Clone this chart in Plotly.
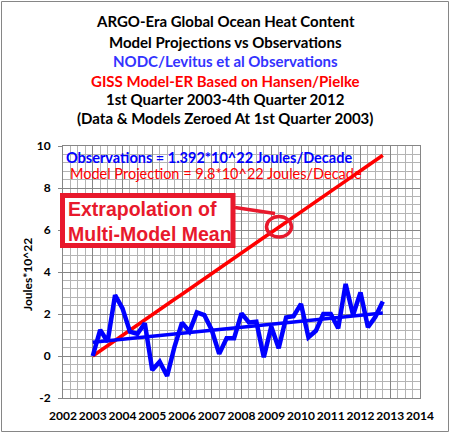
import plotly.graph_objects as go

# ---------------- data ----------------
quarters = [2003 + 0.25 * i for i in range(40)]
observations = [0.00, 1.24, 0.68, 2.90,
                2.27, 1.16, 1.05, 1.56,
                -0.67, -0.27, -0.95, 0.45,
                1.59, 1.16, 2.08, 1.95,
                1.24, 0.10, 0.84, 0.84,
                2.03, 1.60, 1.63, -0.06,
                1.40, 0.37, 1.84, 1.90,
                2.48, 0.89, 1.20, 2.00,
                2.00, 1.32, 3.43, 1.95,
                3.02, 1.37, 1.87, 2.59]
model_projection = [0.00, 0.25, 0.49, 0.74, 0.98, 1.23, 1.47, 1.72, 1.96, 2.21,
                    2.45, 2.70, 2.94, 3.19, 3.43, 3.68, 3.92, 4.17, 4.41, 4.66,
                    4.90, 5.15, 5.39, 5.64, 5.88, 6.13, 6.37, 6.62, 6.86, 7.11,
                    7.35, 7.60, 7.84, 8.09, 8.33, 8.58, 8.82, 9.07, 9.31, 9.56]
trend_x = [2003.0, 2012.75]
trend_y = [0.65, 2.05]
x_ticks = list(range(2002, 2015))
y_ticks = [-2, 0, 2, 4, 6, 8, 10]

title_lines = [
    ("ARGO-Era Global Ocean Heat Content", "#000000"),
    ("Model Projections vs Observations", "#000000"),
    ("NODC/Levitus et al Observations", "#3333FF"),
    ("GISS Model-ER Based on Hansen/Pielke", "#FF0000"),
    ("1st Quarter 2003-4th Quarter 2012", "#000000"),
    ("(Data & Models Zeroed At 1st Quarter 2003)", "#000000"),
]

# ---------------- layout geometry (pixels) ----------------
W, H = 451, 434
L, R, T, B = 63, 420, 146, 398
PW, PH = R - L, B - T


def px(x):
    return (x - L) / PW


def py(y):
    return (B - y) / PH


FONT = "Lato"
RED = "#E8192C"

fig = go.Figure()
fig.add_trace(go.Scatter(x=quarters, y=model_projection, mode="lines",
                         line=dict(color="#FF0000", width=3.5), hoverinfo="skip"))
fig.add_trace(go.Scatter(x=quarters, y=observations, mode="lines",
                         line=dict(color="#0000FF", width=4.5), hoverinfo="skip"))
fig.add_trace(go.Scatter(x=trend_x, y=trend_y, mode="lines",
                         line=dict(color="#0000FF", width=3.5), hoverinfo="skip"))

annotations = []
title_y = [21, 42, 61, 80.5, 99, 118.5]
for (txt, col), yy in zip(title_lines, title_y):
    annotations.append(dict(text="<b>" + txt + "</b>", xref="paper", yref="paper", x=px(225), y=py(yy),
                            xanchor="center", yanchor="middle", showarrow=False,
                            font=dict(family=FONT, size=15, color=col)))

annotations.append(dict(text="<b>Observations = 1.392*10^22 Joules/Decade</b>", xref="paper", yref="paper",
                        x=px(64), y=py(157), xanchor="left", yanchor="middle", showarrow=False,
                        font=dict(family=FONT, size=14.5, color="#0000FF")))
annotations.append(dict(text="Model Projection = 9.8*10^22 Joules/Decade", xref="paper", yref="paper",
                        x=px(68), y=py(173), xanchor="left", yanchor="middle", showarrow=False,
                        font=dict(family=FONT, size=14.5, color="#FF0000")))
annotations.append(dict(text="<b>Extrapolation of<br>Multi-Model Mean</b>", xref="paper", yref="paper",
                        x=px(66), y=py(221), xanchor="left", yanchor="middle", align="left",
                        showarrow=False,
                        font=dict(family="Liberation Sans", size=19.5, color=RED)))
annotations.append(dict(text="<b>Joules*10^22</b>", xref="paper", yref="paper", x=px(27), y=py(275),
                        xanchor="center", yanchor="middle", textangle=-90, showarrow=False,
                        font=dict(family=FONT, size=12, color="#000000")))

shapes = [
    # outer chart border
    dict(type="rect", xref="paper", yref="paper", x0=px(1.5), x1=px(448.5), y0=py(1.5), y1=py(431.5),
         line=dict(color="#868686", width=1), layer="below"),
    # callout box
    dict(type="rect", xref="paper", yref="paper", x0=px(62.5), x1=px(233), y0=py(195.5), y1=py(245.5),
         line=dict(color=RED, width=5), fillcolor="white", layer="above"),
    # connector
    dict(type="line", xref="paper", yref="paper", x0=px(235), y0=py(207.5), x1=px(275), y1=py(213.5),
         line=dict(color=RED, width=3.5)),
    # circle
    dict(type="circle", xref="paper", yref="paper", x0=px(266.5), x1=px(291.5), y0=py(216.5), y1=py(237),
         line=dict(color=RED, width=3.5)),
]

fig.update_layout(
    width=W, height=H,
    margin=dict(l=L, r=W - R, t=T, b=H - B, autoexpand=False),
    paper_bgcolor="white", plot_bgcolor="white",
    showlegend=False,
    annotations=annotations, shapes=shapes,
    font=dict(family=FONT),
)
fig.update_xaxes(range=[2002, 2014], tickvals=x_ticks, ticktext=["<b>%d</b>" % v for v in x_ticks],
                 tickangle=0, automargin=False,
                 showgrid=True, gridcolor="#868686", gridwidth=1,
                 minor=dict(dtick=0.25, tick0=2002, showgrid=True, gridcolor="#B4B4B4", gridwidth=1),
                 showline=True, linecolor="#868686", mirror=True, zeroline=False,
                 ticks="", ticklabelstandoff=7,
                 tickfont=dict(family=FONT, size=12, color="#000000"))
fig.update_yaxes(range=[-2, 10], tickvals=y_ticks, ticktext=["<b>%d</b>" % v for v in y_ticks],
                 automargin=False,
                 showgrid=True, gridcolor="#868686", gridwidth=1,
                 minor=dict(dtick=0.4, tick0=-2, showgrid=True, gridcolor="#B4B4B4", gridwidth=1),
                 showline=True, linecolor="#868686", mirror=True, zeroline=False,
                 ticks="outside", ticklen=4, tickcolor="#868686", ticklabelstandoff=5,
                 tickfont=dict(family=FONT, size=12, color="#000000"))

fig.write_html("out.html")
